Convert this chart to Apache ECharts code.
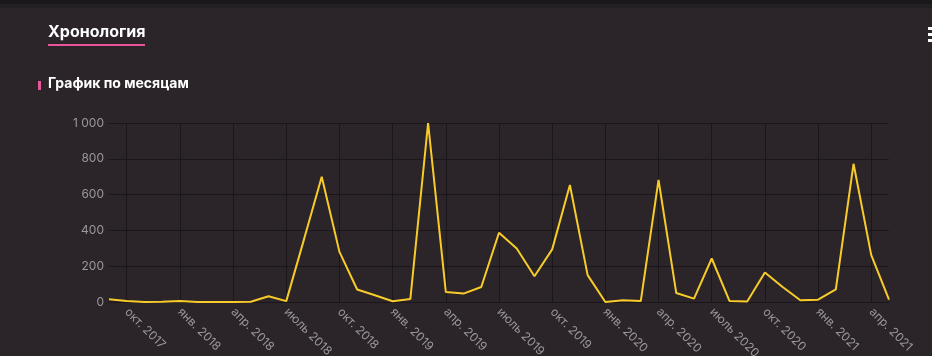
<!DOCTYPE html>
<html>
<head>
<meta charset="utf-8">
<script src="https://cdn.jsdelivr.net/npm/echarts@6/dist/echarts.min.js"></script>
<style>
html,body{margin:0;padding:0;background:#2b2428;}
#c{width:932px;height:356px;}
</style>
</head>
<body>
<div id="c"></div>
<script>
const categories = [
  "сент. 2017","окт. 2017","нояб. 2017","дек. 2017",
  "янв. 2018","февр. 2018","март 2018","апр. 2018","май 2018","июнь 2018","июль 2018","авг. 2018","сент. 2018","окт. 2018","нояб. 2018","дек. 2018",
  "янв. 2019","февр. 2019","март 2019","апр. 2019","май 2019","июнь 2019","июль 2019","авг. 2019","сент. 2019","окт. 2019","нояб. 2019","дек. 2019",
  "янв. 2020","февр. 2020","март 2020","апр. 2020","май 2020","июнь 2020","июль 2020","авг. 2020","сент. 2020","окт. 2020","нояб. 2020","дек. 2020",
  "янв. 2021","февр. 2021","март 2021","апр. 2021","май 2021"
];
const values = [
  15, 5, 0, 2,
  5, 0, 0, 0, 1, 32, 5, 350, 700, 280, 70, 38,
  4, 17, 1000, 56, 47, 84, 387, 299, 144, 294, 654, 150,
  0, 10, 6, 682, 50, 19, 243, 6, 3, 165, 84, 10,
  13, 71, 772, 262, 13
];
const yTicks = { min: 0, max: 1000, interval: 200 };
const titleText = "Хронология";
const subtitleText = "График по месяцам";

const chart = echarts.init(document.getElementById('c'), null, {renderer: 'canvas'});
const labelEvery = function (index) { return (index - 1) % 3 === 0; };
chart.setOption({
  backgroundColor: '#2b2428',
  animation: false,
  grid: { left: 109, right: 43, top: 123, bottom: 54, containLabel: false, outerBoundsMode: 'none' },
  graphic: [
    { type: 'rect', shape: { x: 0, y: 0, width: 932, height: 4 }, style: { fill: '#1b181b' } },
    { type: 'rect', shape: { x: 0, y: 4, width: 932, height: 4 }, style: { fill: '#241f23' } },
    { type: 'text', left: 48, top: 24, style: { text: titleText, fill: '#ffffff', font: 'bold 16px Inter, sans-serif' } },
    { type: 'rect', shape: { x: 48, y: 44, width: 97, height: 2 }, style: { fill: '#e8569a' } },
    { type: 'rect', shape: { x: 38, y: 81, width: 3, height: 9 }, style: { fill: '#e8569a' } },
    { type: 'text', left: 48, top: 77, style: { text: subtitleText, fill: '#ffffff', font: 'bold 14px Inter, sans-serif' } },
    { type: 'rect', shape: { x: 928, y: 27, width: 4, height: 3 }, style: { fill: '#ffffff' } },
    { type: 'rect', shape: { x: 928, y: 33, width: 4, height: 3 }, style: { fill: '#ffffff' } },
    { type: 'rect', shape: { x: 928, y: 39, width: 4, height: 3 }, style: { fill: '#ffffff' } }
  ],
  xAxis: {
    type: 'category',
    data: categories,
    boundaryGap: false,
    axisLine: { show: true, lineStyle: { color: '#1a1619', width: 1 } },
    axisTick: { show: false },
    axisLabel: {
      interval: labelEvery,
      rotate: -45,
      color: '#9b979b',
      fontSize: 12,
      fontFamily: 'Inter, sans-serif',
      margin: 8
    },
    splitLine: { show: true, interval: labelEvery, lineStyle: { color: '#1a1619', width: 1 } }
  },
  yAxis: {
    type: 'value',
    min: yTicks.min, max: yTicks.max, interval: yTicks.interval,
    axisLine: { show: false },
    axisTick: { show: false },
    axisLabel: {
      color: '#9b979b', fontSize: 12, fontFamily: 'Inter, sans-serif', margin: 5,
      formatter: function (v) { return v >= 1000 ? String(v).replace(/\B(?=(\d{3})+(?!\d))/g, ' ') : String(v); }
    },
    splitLine: { show: true, lineStyle: { color: '#1a1619', width: 1 } }
  },
  series: [{
    type: 'line',
    data: values,
    symbol: 'none',
    lineStyle: { color: '#f7cc2a', width: 2 },
    itemStyle: { color: '#f7cc2a' }
  }]
});
</script>
</body>
</html>
